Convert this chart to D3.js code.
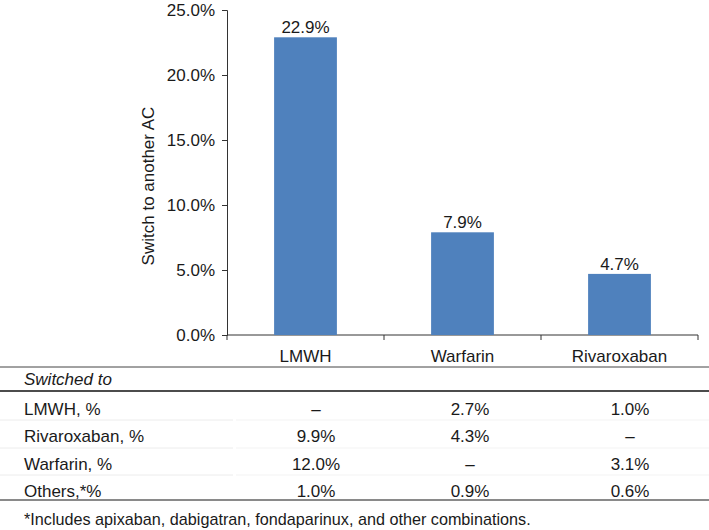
<!DOCTYPE html>
<html>
<head>
<meta charset="utf-8">
<script src="https://cdn.jsdelivr.net/npm/d3@7"></script>
<style>
  body { margin: 0; background: #fff; }
  text { font-family: "Liberation Sans", Arial, sans-serif; fill: #1a1a1a; }
</style>
</head>
<body>
<script>
//data
var categories = ["LMWH", "Warfarin", "Rivaroxaban"];
var switchRates = [22.9, 7.9, 4.7];
var yTicks = [0, 5, 10, 15, 20, 25];
var rowLabels = ["LMWH, %", "Rivaroxaban, %", "Warfarin, %", "Others,*%"];
var fromLMWH = ["–", "9.9%", "12.0%", "1.0%"];
var fromWarfarin = ["2.7%", "4.3%", "–", "0.9%"];
var fromRivaroxaban = ["1.0%", "–", "3.1%", "0.6%"];
var footnote = "*Includes apixaban, dabigatran, fondaparinux, and other combinations.";

var width = 709, height = 530;
var fontSize = 17;

var svg = d3.select("body").append("svg")
  .attr("width", width)
  .attr("height", height);

//scales
var x = d3.scaleBand()
  .domain(categories)
  .range([227, 698])
  .paddingInner(0.6)
  .paddingOuter(0.3);

var y = d3.scaleLinear()
  .domain([0, 25])
  .range([335, 10]);

//y axis
var yAxis = svg.append("g")
  .attr("transform", "translate(227,0)")
  .call(d3.axisLeft(y).tickValues(yTicks).tickSize(5).tickPadding(7)
    .tickFormat(function(d) { return d.toFixed(1) + "%"; }));
yAxis.selectAll("text").style("font-size", fontSize + "px").attr("dy", "0.35em");
yAxis.selectAll("line, path").attr("stroke", "#333");

//x axis with ticks at band edges
svg.append("line")
  .attr("x1", 227).attr("x2", 698)
  .attr("y1", y(0)).attr("y2", y(0))
  .attr("stroke", "#333");
var edges = categories.map(function(c) { return x(c) - x.step() * x.paddingInner() / 2; });
edges.push(698);
svg.selectAll(".xtick")
  .data(edges)
  .enter().append("line")
  .attr("x1", function(d) { return d; })
  .attr("x2", function(d) { return d; })
  .attr("y1", y(0)).attr("y2", y(0) + 5)
  .attr("stroke", "#333");

svg.selectAll(".xlab")
  .data(categories)
  .enter().append("text")
  .attr("x", function(d) { return x(d) + x.bandwidth() / 2; })
  .attr("y", 362)
  .attr("text-anchor", "middle")
  .style("font-size", fontSize + "px")
  .text(function(d) { return d; });

//bars
svg.selectAll(".bar")
  .data(switchRates)
  .enter().append("rect")
  .attr("x", function(d, i) { return x(categories[i]); })
  .attr("y", function(d) { return y(d); })
  .attr("width", x.bandwidth())
  .attr("height", function(d) { return y(0) - y(d); })
  .attr("fill", "#4f81bd");

svg.selectAll(".val")
  .data(switchRates)
  .enter().append("text")
  .attr("x", function(d, i) { return x(categories[i]) + x.bandwidth() / 2; })
  .attr("y", function(d) { return y(d) - 4; })
  .attr("text-anchor", "middle")
  .style("font-size", fontSize + "px")
  .text(function(d) { return d.toFixed(1) + "%"; });

//y axis title
svg.append("text")
  .attr("transform", "translate(154,186) rotate(-90)")
  .attr("text-anchor", "middle")
  .style("font-size", fontSize + "px")
  .text("Switch to another AC");

//table
svg.append("line").attr("x1", 0).attr("x2", width).attr("y1", 367).attr("y2", 367)
  .attr("stroke", "#444").attr("stroke-width", 1);
svg.append("text").attr("x", 24).attr("y", 385)
  .style("font-size", fontSize + "px").style("font-style", "italic")
  .text("Switched to");
svg.append("line").attr("x1", 0).attr("x2", width).attr("y1", 391).attr("y2", 391)
  .attr("stroke", "#111").attr("stroke-width", 1.5);

var rowY = d3.scalePoint()
  .domain(rowLabels)
  .range([409, 491]);

var colCenters = [316, 470, 630];
var columns = [fromLMWH, fromWarfarin, fromRivaroxaban];

//faint row separators
var seps = [420, 448, 475];
svg.selectAll(".sep")
  .data(seps)
  .enter().append("line")
  .attr("x1", 0).attr("x2", 233)
  .attr("y1", function(d) { return d; }).attr("y2", function(d) { return d; })
  .attr("stroke", "#ececec");
svg.selectAll(".sep2")
  .data(seps)
  .enter().append("line")
  .attr("x1", 236).attr("x2", width)
  .attr("y1", function(d) { return d; }).attr("y2", function(d) { return d; })
  .attr("stroke", "#f3f3f3");

svg.selectAll(".rowlab")
  .data(rowLabels)
  .enter().append("text")
  .attr("x", 24)
  .attr("y", function(d) { return rowY(d); })
  .attr("dy", "0.35em")
  .style("font-size", fontSize + "px")
  .text(function(d) { return d; });

columns.forEach(function(col, ci) {
  svg.selectAll(".cell" + ci)
    .data(col)
    .enter().append("text")
    .attr("x", colCenters[ci])
    .attr("y", function(d, i) { return rowY(rowLabels[i]); })
    .attr("dy", "0.35em")
    .attr("text-anchor", "middle")
    .style("font-size", fontSize + "px")
    .text(function(d) { return d; });
});

svg.append("line").attr("x1", 0).attr("x2", width).attr("y1", 500).attr("y2", 500)
  .attr("stroke", "#8a8a8a").attr("stroke-width", 2);

svg.append("text").attr("x", 24).attr("y", 525)
  .style("font-size", "16.2px")
  .text(footnote);
</script>
</body>
</html>
